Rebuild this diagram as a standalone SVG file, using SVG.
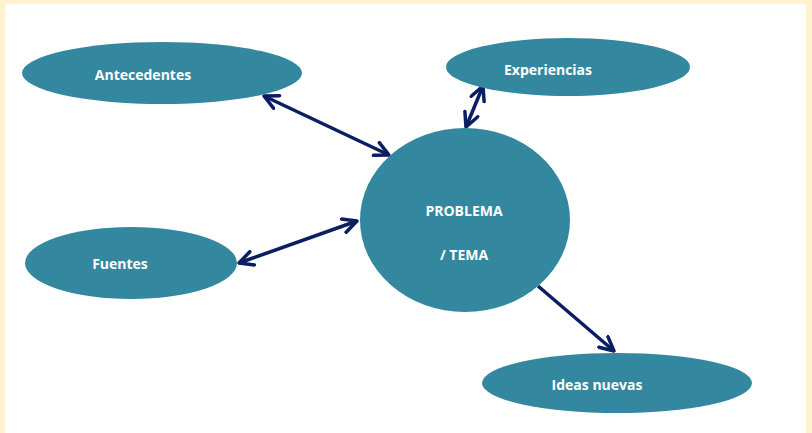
<svg xmlns="http://www.w3.org/2000/svg" width="812" height="433" viewBox="0 0 812 433">
<style>
.node{fill:#33879e}
.lbl{fill:#ffffff;font-family:"Open Sans","Liberation Sans",Arial,sans-serif;font-weight:bold;font-size:14px;text-anchor:middle}
.conn{stroke:#0c1e62;stroke-width:3.5;fill:none}
</style>
<defs>
<marker id="ah" viewBox="0 0 10 10" refX="9" refY="5" markerWidth="5" markerHeight="5" orient="auto-start-reverse" markerUnits="strokeWidth">
<polyline points="1,1 9,5 1,9" fill="none" stroke="#0c1e62" stroke-width="2" stroke-linecap="round" stroke-linejoin="round"/>
</marker>
</defs>
<rect x="0" y="0" width="812" height="433" fill="#fff2cc"/>
<rect x="5" y="4" width="801" height="429" fill="#ffffff"/>
<g id="connectors">
<line class="conn" x1="264" y1="96" x2="389" y2="155" marker-start="url(#ah)" marker-end="url(#ah)"/>
<line class="conn" x1="483" y1="86" x2="466" y2="127" marker-start="url(#ah)" marker-end="url(#ah)"/>
<line class="conn" x1="239" y1="263" x2="357" y2="221" marker-start="url(#ah)" marker-end="url(#ah)"/>
<line class="conn" x1="538" y1="286" x2="614" y2="351" marker-end="url(#ah)"/>
</g>
<g id="antecedentes">
<ellipse class="node" cx="162" cy="73" rx="140" ry="31"/>
<text class="lbl" x="143" y="80">Antecedentes</text>
</g>
<g id="experiencias">
<ellipse class="node" cx="568" cy="67" rx="122" ry="29"/>
<text class="lbl" x="548" y="75">Experiencias</text>
</g>
<g id="fuentes">
<ellipse class="node" cx="131" cy="263" rx="106" ry="36"/>
<text class="lbl" x="120" y="269">Fuentes</text>
</g>
<g id="problema">
<ellipse class="node" cx="465" cy="220" rx="105" ry="92"/>
<text class="lbl" x="464" y="216">PROBLEMA</text>
<text class="lbl" x="464" y="260">/ TEMA</text>
</g>
<g id="ideas">
<ellipse class="node" cx="617" cy="383" rx="135" ry="30"/>
<text class="lbl" x="597" y="390">Ideas nuevas</text>
</g>
</svg>
